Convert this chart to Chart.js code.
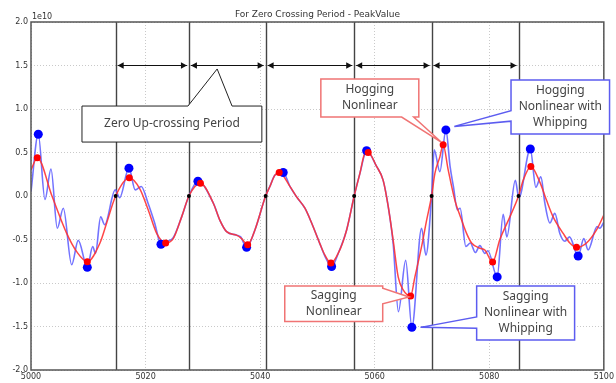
<!DOCTYPE html>
<html>
<head>
<meta charset="utf-8">
<script src="https://cdn.jsdelivr.net/npm/chart.js@4.4.1/dist/chart.umd.min.js"></script>
<style>
  html, body { margin: 0; padding: 0; background: #fff; }
  canvas { display: block; }
</style>
</head>
<body>
<canvas id="chart" width="616" height="383"></canvas>
<script>
// time axis and values are in units of 1e10
const xTicks = [5000, 5020, 5040, 5060, 5080, 5100];
const yTicks = [-2.0, -1.5, -1.0, -0.5, 0.0, 0.5, 1.0, 1.5, 2.0];

// nonlinear response (red)
const redX = [5000.0, 5001.10, 5003.66, 5006.23, 5007.98, 5009.83, 5012.04, 5013.21, 5014.78, 5017.16,
  5019.02, 5020.47, 5021.94, 5023.51, 5024.83, 5026.30, 5027.57, 5029.58, 5031.81, 5032.98,
  5034.15, 5035.90, 5036.77, 5037.82, 5039.09, 5040.96, 5041.71, 5042.58, 5043.33, 5045.20,
  5046.37, 5047.82, 5048.99, 5050.44, 5051.31, 5052.36, 5053.63, 5055.10, 5056.42, 5057.42,
  5058.29, 5058.87, 5060.33, 5061.48, 5062.36, 5063.23, 5064.10, 5064.97, 5066.27, 5067.02,
  5068.19, 5069.06, 5069.93, 5070.51, 5071.38, 5071.95, 5072.83, 5074.00, 5074.87, 5076.04,
  5076.91, 5078.36, 5079.23, 5080.58, 5081.85, 5083.60, 5085.11, 5085.92, 5087.26, 5088.83,
  5090.00, 5091.15, 5092.90, 5094.07, 5095.24, 5096.98, 5098.73, 5100.0];
const redY = [0.30, 0.44, 0.0, -0.43, -0.64, -0.755, -0.54, -0.31, 0.0, 0.21,
  0.08, -0.16, -0.43, -0.54, -0.49, -0.24, 0.0, 0.146, -0.08, -0.28,
  -0.41, -0.45, -0.49, -0.56, -0.39, 0.0, 0.11, 0.24, 0.27, 0.11,
  -0.01, -0.14, -0.31, -0.55, -0.68, -0.77, -0.66, -0.39, 0.0, 0.26,
  0.49, 0.50, 0.34, 0.18, -0.12, -0.51, -0.93, -1.08, -1.15, -0.93,
  -0.58, -0.28, 0.0, 0.26, 0.45, 0.59, 0.30, -0.05, -0.22, -0.43,
  -0.54, -0.60, -0.62, -0.76, -0.50, -0.24, 0.0, 0.18, 0.34, 0.16,
  -0.05, -0.24, -0.43, -0.54, -0.59, -0.54, -0.39, -0.22];

// nonlinear response with whipping (blue)
const blueX = [5000.0, 5001.27, 5002.44, 5003.49, 5004.59, 5005.64, 5007.10, 5008.25, 5009.83, 5010.77,
  5011.26, 5012.16, 5012.86, 5014.71, 5015.48, 5017.10, 5018.20, 5019.25, 5020.42, 5021.59,
  5022.69, 5023.91, 5024.83, 5026.30, 5027.57, 5029.14, 5031.81, 5032.98, 5034.15, 5035.90,
  5036.60, 5037.64, 5039.09, 5040.96, 5041.71, 5042.58, 5044.03, 5045.20, 5046.37, 5047.82,
  5048.99, 5050.44, 5051.31, 5052.48, 5053.63, 5055.10, 5056.42, 5057.42, 5058.59, 5060.33,
  5061.48, 5062.36, 5063.23, 5064.14, 5065.41, 5066.49, 5068.19, 5068.94, 5069.93, 5070.39,
  5071.38, 5072.43, 5073.16, 5073.74, 5074.44, 5074.91, 5075.92, 5076.70, 5077.57, 5078.36,
  5079.23, 5079.76, 5081.38, 5082.43, 5083.07, 5084.55, 5085.17, 5087.17, 5088.13, 5089.01,
  5089.70, 5090.58, 5091.45, 5092.32, 5093.20, 5094.00, 5095.52, 5096.51, 5097.26, 5098.83,
  5099.30, 5100.0];
const blueY = [0.05, 0.71, -0.04, 0.31, -0.37, -0.14, -0.79, -0.51, -0.82, -0.58,
  -0.66, -0.24, -0.33, 0.07, -0.02, 0.32, 0.07, 0.11, -0.08, -0.31,
  -0.555, -0.52, -0.48, -0.24, 0.0, 0.17, -0.08, -0.28, -0.41, -0.45,
  -0.47, -0.59, -0.39, 0.0, 0.11, 0.24, 0.27, 0.11, -0.01, -0.14,
  -0.31, -0.55, -0.69, -0.81, -0.66, -0.39, 0.0, 0.26, 0.52, 0.34,
  0.18, -0.12, -0.55, -1.33, -0.74, -1.51, -0.37, -0.68, 0.0, 0.53,
  0.28, 0.76, 0.34, 0.11, -0.16, -0.14, -0.58, -0.54, -0.65, -0.57,
  -0.66, -0.63, -0.93, -0.21, -0.47, 0.18, -0.02, 0.54, 0.10, 0.22,
  -0.08, -0.31, -0.20, -0.43, -0.52, -0.47, -0.69, -0.49, -0.62, -0.35,
  -0.37, -0.30];

// peak values per zero up-crossing half cycle
const redPeakX = [5001.10, 5009.83, 5017.16, 5023.51, 5029.58, 5037.82, 5043.33, 5052.36, 5058.87, 5066.27, 5071.95, 5080.58, 5087.26, 5095.24];
const redPeakY = [0.44, -0.755, 0.21, -0.54, 0.146, -0.56, 0.27, -0.77, 0.50, -1.15, 0.59, -0.76, 0.34, -0.59];
const bluePeakX = [5001.27, 5009.83, 5017.10, 5022.69, 5029.14, 5037.64, 5044.03, 5052.48, 5058.59, 5066.49, 5072.43, 5081.38, 5087.17, 5095.52];
const bluePeakY = [0.71, -0.82, 0.32, -0.555, 0.17, -0.59, 0.27, -0.81, 0.52, -1.51, 0.76, -0.93, 0.54, -0.69];

// zero up-crossing times
const crossX = [5014.78, 5027.57, 5040.96, 5056.42, 5069.93, 5085.11];
const arrowLevel = 1.5;

const toXY = (xs, ys) => xs.map((x, i) => ({ x: x, y: ys[i] }));

// callout boxes, placed in data units
const callouts = [
  { lines: ['Zero Up-crossing Period'], box: [5008.9, 5040.3, 1.034, 0.62], color: '#222', width: 1,
    side: 'top', base: [5027.4, 5035.1], tip: [5032.5, 1.46] },
  { lines: ['Hogging', 'Nonlinear'], box: [5050.6, 5067.7, 1.345, 0.908], color: '#f07474', width: 1.5,
    side: 'bottom', base: [5064.7, 5066.8], tip: [5071.6, 0.62] },
  { lines: ['Hogging', 'Nonlinear with', 'Whipping'], box: [5083.8, 5101.0, 1.333, 0.713], color: '#5c5cf0', width: 1.5,
    side: 'left', base: [0.98, 0.86], tip: [5073.9, 0.80] },
  { lines: ['Sagging', 'Nonlinear'], box: [5044.3, 5061.4, -1.034, -1.443], color: '#f07474', width: 1.5,
    side: 'right', base: [-1.06, -1.24], tip: [5066.0, -1.16] },
  { lines: ['Sagging', 'Nonlinear with', 'Whipping'], box: [5077.8, 5094.9, -1.034, -1.655], color: '#5c5cf0', width: 1.5,
    side: 'left', base: [-1.39, -1.52], tip: [5068.0, -1.51] }
];

const background = {
  id: 'background',
  beforeDraw(chart) {
    const ctx = chart.ctx;
    ctx.save();
    ctx.fillStyle = '#fff';
    ctx.fillRect(0, 0, chart.width, chart.height);
    ctx.restore();
  }
};

const crossings = {
  id: 'crossings',
  beforeDatasetsDraw(chart) {
    const { ctx, chartArea, scales } = chart;
    ctx.save();
    ctx.strokeStyle = '#444';
    ctx.lineWidth = 1.4;
    crossX.forEach(x => {
      const px = Math.round(scales.x.getPixelForValue(x)) + 0.5;
      ctx.beginPath();
      ctx.moveTo(px, chartArea.top);
      ctx.lineTo(px, chartArea.bottom);
      ctx.stroke();
    });
    ctx.restore();
  },
  afterDatasetsDraw(chart) {
    const { ctx, chartArea, scales } = chart;
    const py = scales.y.getPixelForValue(arrowLevel);
    ctx.save();
    ctx.strokeStyle = '#111';
    ctx.fillStyle = '#111';
    ctx.lineWidth = 1;
    const head = (tipX, dir) => {
      ctx.beginPath();
      ctx.moveTo(tipX, py);
      ctx.lineTo(tipX + dir * 6, py - 3.2);
      ctx.lineTo(tipX + dir * 6, py + 3.2);
      ctx.closePath();
      ctx.fill();
    };
    for (let i = 0; i < crossX.length - 1; i++) {
      const a = scales.x.getPixelForValue(crossX[i]) + 2;
      const b = scales.x.getPixelForValue(crossX[i + 1]) - 2;
      ctx.beginPath();
      ctx.moveTo(a, py);
      ctx.lineTo(b, py);
      ctx.stroke();
      head(a, 1);
      head(b, -1);
    }

    // frame
    ctx.strokeStyle = '#555';
    ctx.lineWidth = 1.5;
    ctx.strokeRect(chartArea.left, chartArea.top, chartArea.right - chartArea.left, chartArea.bottom - chartArea.top);

    // callouts
    callouts.forEach(c => {
      const L = scales.x.getPixelForValue(c.box[0]);
      const R = scales.x.getPixelForValue(c.box[1]);
      const T = scales.y.getPixelForValue(c.box[2]);
      const B = scales.y.getPixelForValue(c.box[3]);
      const tx = scales.x.getPixelForValue(c.tip[0]);
      const ty = scales.y.getPixelForValue(c.tip[1]);
      let pts;
      if (c.side === 'top') {
        const b1 = scales.x.getPixelForValue(c.base[0]), b2 = scales.x.getPixelForValue(c.base[1]);
        pts = [[L, T], [b1, T], [tx, ty], [b2, T], [R, T], [R, B], [L, B]];
      } else if (c.side === 'bottom') {
        const b1 = scales.x.getPixelForValue(c.base[0]), b2 = scales.x.getPixelForValue(c.base[1]);
        pts = [[L, T], [R, T], [R, B], [b2, B], [tx, ty], [b1, B], [L, B]];
      } else if (c.side === 'left') {
        const b1 = scales.y.getPixelForValue(c.base[0]), b2 = scales.y.getPixelForValue(c.base[1]);
        pts = [[L, T], [R, T], [R, B], [L, B], [L, b2], [tx, ty], [L, b1]];
      } else {
        const b1 = scales.y.getPixelForValue(c.base[0]), b2 = scales.y.getPixelForValue(c.base[1]);
        pts = [[L, T], [R, T], [R, b1], [tx, ty], [R, b2], [R, B], [L, B]];
      }
      ctx.beginPath();
      pts.forEach((p, i) => (i ? ctx.lineTo(p[0], p[1]) : ctx.moveTo(p[0], p[1])));
      ctx.closePath();
      ctx.fillStyle = '#fff';
      ctx.fill();
      ctx.strokeStyle = c.color;
      ctx.lineWidth = c.width;
      ctx.stroke();

      ctx.fillStyle = '#444';
      ctx.font = '12px "Noto Sans", sans-serif';
      ctx.textAlign = 'center';
      ctx.textBaseline = 'middle';
      const cx = (L + R) / 2, cy = (T + B) / 2;
      const lh = 16;
      c.lines.forEach((s, i) => {
        ctx.fillText(s, cx, cy + (i - (c.lines.length - 1) / 2) * lh);
      });
    });

    // title and offset text
    ctx.fillStyle = '#333';
    ctx.font = '9px "DejaVu Sans", sans-serif';
    ctx.textAlign = 'center';
    ctx.textBaseline = 'middle';
    ctx.fillText('For Zero Crossing Period - PeakValue', (chartArea.left + chartArea.right) / 2, 15);
    ctx.font = '8px "DejaVu Sans", sans-serif';
    ctx.textAlign = 'left';
    ctx.fillText('1e10', chartArea.left + 1, 17);
    ctx.restore();
  }
};

new Chart(document.getElementById('chart').getContext('2d'), {
  type: 'line',
  data: {
    datasets: [
      {
        label: 'Nonlinear with Whipping',
        data: toXY(blueX, blueY),
        borderColor: 'rgba(90, 90, 255, 0.85)',
        borderWidth: 1.6,
        pointRadius: 0,
        cubicInterpolationMode: 'monotone',
        fill: false,
        order: 4
      },
      {
        label: 'Nonlinear',
        data: toXY(redX, redY),
        borderColor: 'rgba(255, 50, 50, 0.9)',
        borderWidth: 1.5,
        pointRadius: 0,
        cubicInterpolationMode: 'monotone',
        fill: false,
        order: 3
      },
      {
        label: 'Peak with Whipping',
        data: toXY(bluePeakX, bluePeakY),
        showLine: false,
        pointRadius: 4.5,
        pointBackgroundColor: '#0000ff',
        pointBorderWidth: 0,
        order: 2
      },
      {
        label: 'Peak',
        data: toXY(redPeakX, redPeakY),
        showLine: false,
        pointRadius: 3.5,
        pointBackgroundColor: '#ff0000',
        pointBorderWidth: 0,
        order: 1
      },
      {
        label: 'Zero up-crossing',
        data: crossX.map(x => ({ x: x, y: 0 })),
        showLine: false,
        pointRadius: 2,
        pointBackgroundColor: '#000',
        pointBorderWidth: 0,
        order: 0
      }
    ]
  },
  options: {
    responsive: false,
    animation: false,
    devicePixelRatio: 1,
    layout: { padding: { top: 22, right: 12, left: 0, bottom: 0 } },
    plugins: {
      legend: { display: false },
      tooltip: { enabled: false },
      title: { display: false }
    },
    scales: {
      x: {
        type: 'linear',
        min: xTicks[0],
        max: xTicks[xTicks.length - 1],
        afterBuildTicks: s => { s.ticks = xTicks.map(v => ({ value: v })); },
        afterFit: s => { s.height = 13; },
        ticks: {
          color: '#333',
          font: { size: 8, family: 'DejaVu Sans' },
          padding: 2,
          maxRotation: 0,
          callback: v => String(v)
        },
        grid: { color: '#bbb', lineWidth: 0.8, drawTicks: false },
        border: { display: false, dash: [1, 2] }
      },
      y: {
        min: yTicks[0],
        max: yTicks[yTicks.length - 1],
        afterBuildTicks: s => { s.ticks = yTicks.map(v => ({ value: v })); },
        afterFit: s => { s.width = 31; },
        ticks: {
          color: '#333',
          font: { size: 8, family: 'DejaVu Sans' },
          padding: 3,
          callback: v => v.toFixed(1)
        },
        grid: { color: '#bbb', lineWidth: 0.8, drawTicks: false },
        border: { display: false, dash: [1, 2] }
      }
    }
  },
  plugins: [background, crossings]
});
</script>
</body>
</html>
